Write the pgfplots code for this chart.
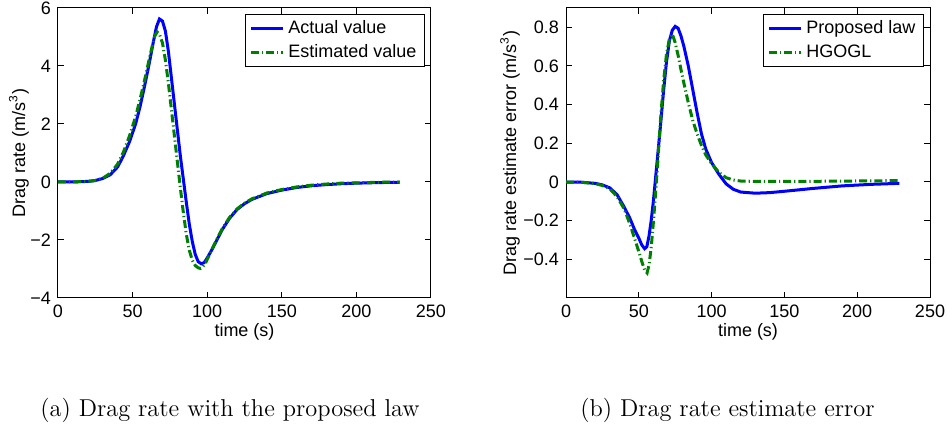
\documentclass[border=0pt]{standalone}
\usepackage{fontspec}
\newfontfamily\helv{Liberation Sans}
\usepackage{pgfplots}
\pgfplotsset{compat=1.18}
\definecolor{mblue}{RGB}{0,0,255}
\definecolor{mgreen}{RGB}{0,128,0}
\pgfplotsset{
  matlab/.style={
    scale only axis,
    height=145pt,
    xmin=0, xmax=250, xtick={0,50,...,250},
    tick align=inside,
    major tick length=3pt,
    axis line style={line width=0.5pt},
    every tick/.style={black, line width=0.5pt},
    tick label style={font=\helv\fontsize{9}{10}\selectfont},
    /pgf/number format/assume math mode=true,
    label style={font=\helv\fontsize{9}{10}\selectfont},
    xlabel={time (s)},
    xlabel style={at={(axis description cs:0.5,-0.1155)}, anchor=center},
    legend style={at={(rel axis cs:1,1)}, anchor=north east, xshift=-3pt, yshift=-3pt,
      font=\helv\fontsize{9}{10}\selectfont, draw=black, line width=0.5pt,
      inner xsep=2pt, inner ysep=1pt, row sep=0pt, cells={anchor=west}},
    legend image code/.code={\draw[#1] (0pt,0pt) -- (16pt,0pt);},
  },
  actual/.style={mblue, line width=1.5pt},
  estim/.style={mgreen, line width=1.5pt, dash pattern=on 4pt off 1.5pt on 0.6pt off 1.5pt},
}
\begin{document}
\begin{tikzpicture}
\useasboundingbox (-29pt,-64pt) rectangle (444.5pt,149pt);
% (a) drag rate
\begin{axis}[matlab, at={(0pt,0pt)}, width=186.5pt,
  ymin=-4, ymax=6, ytick={-4,-2,0,2,4,6}, yticklabels={−4,−2,0,2,4,6},
  ylabel={Drag rate (m/s\textsuperscript{3})},
  ylabel style={at={(axis description cs:-0.1046,0.5)}, anchor=center}]
\addplot[actual] coordinates {
(0,0) (10,0.002) (20,0.02) (25,0.05) (30,0.12) (35,0.25) (40,0.52) (44,0.92)
(48,1.4) (52,2.0) (55,2.6) (58,3.3) (61,4.05) (64,4.85) (66,5.35) (68,5.62)
(70,5.55) (72,5.2) (74,4.5) (76,3.6) (78,2.7) (80,1.8) (82,0.9) (84,0.1)
(86,-0.7) (88,-1.45) (90,-2.05) (92,-2.5) (94,-2.75) (96,-2.82) (98,-2.78)
(100,-2.62) (103,-2.35) (106,-2.05) (110,-1.65) (115,-1.25) (120,-0.95)
(125,-0.75) (130,-0.6) (140,-0.4) (150,-0.28) (160,-0.19) (170,-0.13)
(180,-0.09) (190,-0.06) (200,-0.04) (215,-0.02) (229,-0.01)};
\addplot[estim] coordinates {
(0,0) (10,0.002) (20,0.02) (25,0.05) (30,0.13) (35,0.3) (40,0.62) (44,1.05)
(48,1.6) (52,2.25) (55,2.85) (58,3.5) (61,4.2) (63,4.65) (65,5.05) (66.5,5.17)
(68,5.1) (70,4.8) (72,4.2) (74,3.4) (76,2.5) (78,1.6) (80,0.7) (82,-0.2)
(84,-1.05) (86,-1.8) (88,-2.35) (90,-2.7) (92,-2.88) (94,-2.96) (95.5,-2.98)
(97,-2.93) (99,-2.78) (102,-2.45) (106,-2.02) (110,-1.62) (115,-1.22)
(120,-0.93) (125,-0.73) (130,-0.58) (140,-0.38) (150,-0.26) (160,-0.17)
(170,-0.11) (180,-0.07) (190,-0.04) (200,-0.03) (215,-0.01) (229,0)};
\legend{Actual value, Estimated value}
\end{axis}
% (b) estimate error
\begin{axis}[matlab, at={(254pt,0pt)}, width=182pt,
  ymin=-0.6, ymax=0.9, ytick={-0.4,-0.2,0,0.2,0.4,0.6,0.8},
  yticklabels={−0.4,−0.2,0,0.2,0.4,0.6,0.8},
  ylabel={Drag rate estimate error (m/s\textsuperscript{3})},
  ylabel style={at={(axis description cs:-0.1538,0.5)}, anchor=center}]
\addplot[actual] coordinates {
(0,0) (10,-0.001) (20,-0.007) (25,-0.015) (30,-0.03) (35,-0.065) (40,-0.13)
(44,-0.19) (47,-0.245) (50,-0.29) (52,-0.325) (54,-0.345) (55.5,-0.335)
(57,-0.28) (58.5,-0.2) (60,-0.1) (61.5,0.02) (63,0.14) (65,0.3) (67,0.47)
(69,0.62) (71,0.73) (73,0.785) (75,0.805) (77,0.795) (79,0.755) (81,0.7)
(84,0.6) (87,0.48) (90,0.36) (93,0.25) (96,0.17) (100,0.1) (105,0.04)
(110,-0.01) (115,-0.038) (120,-0.052) (130,-0.058) (140,-0.055) (150,-0.048)
(170,-0.033) (190,-0.02) (210,-0.012) (229,-0.007)};
\addplot[estim] coordinates {
(0,0) (10,-0.001) (20,-0.008) (25,-0.018) (30,-0.035) (35,-0.075) (40,-0.14)
(44,-0.22) (47,-0.29) (50,-0.36) (52,-0.41) (54,-0.455) (55.7,-0.47)
(57,-0.43) (58.5,-0.34) (60,-0.21) (61.5,-0.06) (63,0.1) (65,0.33) (67,0.52)
(69,0.66) (71,0.74) (73,0.765) (75,0.72) (77,0.655) (79,0.58) (81,0.51)
(84,0.41) (87,0.32) (90,0.25) (93,0.19) (96,0.14) (100,0.095) (105,0.05)
(110,0.022) (115,0.01) (120,0.005) (130,0.003) (150,0.003) (180,0.004)
(210,0.006) (229,0.007)};
\legend{Proposed law, HGOGL}
\end{axis}
\node[font=\fontsize{12.2}{14}\selectfont, anchor=base] at (86pt,-59.5pt)
  {(a) Drag rate with the proposed law};
\node[font=\fontsize{12.2}{14}\selectfont, anchor=base] at (334.75pt,-59.5pt)
  {(b) Drag rate estimate error};
\end{tikzpicture}
\end{document}
